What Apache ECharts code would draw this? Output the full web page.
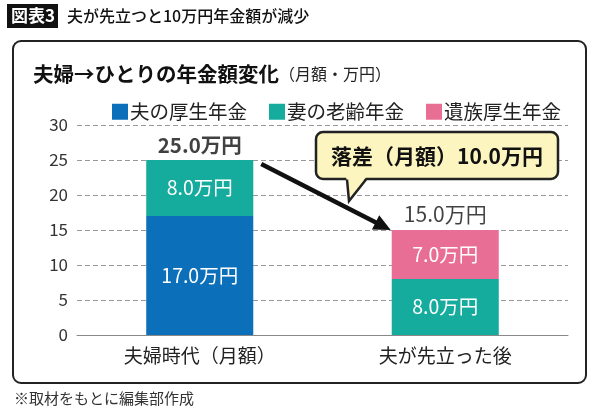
<!DOCTYPE html>
<html><head><meta charset="utf-8">
<script src="https://cdn.jsdelivr.net/npm/echarts@6/dist/echarts.min.js"></script>
<style>html,body{margin:0;padding:0;background:#fff}#c{width:600px;height:413px}</style>
</head><body><div id="c"></div>
<script>
const categories = ['夫婦時代（月額）', '夫が先立った後'];
const husbandPension = [17, '-'];
const wifePension = [8, 8];
const survivorPension = ['-', 7];
const totals = [25, 15];
const yTicks = { min: 0, max: 30, interval: 5 };
const seriesNames = ['夫の厚生年金', '妻の老齢年金', '遺族厚生年金'];
const colors = ['#0c6fba', '#15ac9e', '#e96e96'];
const FONT = '"Noto Sans CJK JP", "Noto Sans", sans-serif';

const chart = echarts.init(document.getElementById('c'), null, { renderer: 'canvas' });
const inLabel = {
  show: true, position: 'inside', color: '#fff', fontSize: 19.5, fontFamily: FONT,
  formatter: p => Number(p.value).toFixed(1) + '万円'
};
chart.setOption({
  animation: false,
  textStyle: { fontFamily: FONT },
  grid: { left: 77, right: 32, top: 125, bottom: 78 },
  legend: {
    data: seriesNames, left: 107, top: 97, icon: 'rect', itemWidth: 16, itemHeight: 16,
    itemGap: 22, textStyle: { fontSize: 19.5, color: '#222', fontFamily: FONT, padding: [0, 0, 0, -3] }
  },
  xAxis: {
    type: 'category', data: categories,
    axisLine: { lineStyle: { color: '#888', width: 1 } }, axisTick: { show: false },
    axisLabel: { fontSize: 19, color: '#222', margin: 11, fontFamily: FONT }
  },
  yAxis: {
    type: 'value', min: yTicks.min, max: yTicks.max, interval: yTicks.interval,
    axisLine: { show: false }, axisTick: { show: false },
    axisLabel: { fontSize: 17, color: '#333', margin: 9, fontFamily: FONT },
    splitLine: { lineStyle: { color: '#999', type: [5, 3], width: 1 } }
  },
  series: [
    { name: seriesNames[0], type: 'bar', stack: 't', data: husbandPension, barWidth: '43.6%',
      itemStyle: { color: colors[0] }, label: inLabel },
    { name: seriesNames[1], type: 'bar', stack: 't', data: wifePension,
      itemStyle: { color: colors[1] }, label: inLabel },
    { name: seriesNames[2], type: 'bar', stack: 't', data: survivorPension,
      itemStyle: { color: colors[2] }, label: inLabel },
    { name: 'total', type: 'scatter', symbolSize: 0, data: totals.map((v, i) => ({
        value: v,
        label: { fontWeight: i === 0 ? 'bold' : 'normal', fontSize: i === 0 ? 20.5 : 21 }
      })),
      label: { show: true, position: 'top', distance: 5, color: '#111', fontFamily: FONT,
        formatter: p => Number(p.value).toFixed(1) + '万円' }, z: 5 }
  ]
});

// annotation arrow from top-right of first bar to top-left of second bar
const halfW = 245.5 * 0.436 / 2;
const p1 = chart.convertToPixel({ gridIndex: 0 }, [0, totals[0]]);
const p2 = chart.convertToPixel({ gridIndex: 0 }, [1, totals[1]]);
const sx = p1[0] + halfW + 8, sy = p1[1] + 4;
const ex = p2[0] - halfW - 1, ey = p2[1];
const ang = Math.atan2(ey - sy, ex - sx);
const hl = 17, hw = 8;
const bx = ex - hl * Math.cos(ang), by = ey - hl * Math.sin(ang);
const nx = -Math.sin(ang), ny = Math.cos(ang);

chart.setOption({
  graphic: [
    { type: 'rect', shape: { x: 13, y: 41, width: 573, height: 342, r: 8 },
      style: { fill: 'none', stroke: '#222', lineWidth: 2 }, z: -10 },
    { type: 'rect', shape: { x: 7, y: 4, width: 51, height: 24 }, style: { fill: '#111' } },
    { type: 'text', x: 11, y: 16, style: { text: '図表3', fill: '#fff', font: 'bold 17px ' + FONT, textVerticalAlign: 'middle' } },
    { type: 'text', x: 67, y: 16, style: { text: '夫が先立つと10万円年金額が減少', fill: '#111', font: '500 16px ' + FONT, textVerticalAlign: 'middle' } },
    { type: 'text', x: 33, y: 74, style: {
        rich: { a: { font: 'bold 20.5px ' + FONT, fill: '#111' }, b: { font: '16px ' + FONT, fill: '#222' } },
        text: '{a|夫婦→ひとりの年金額変化}{b|（月額・万円）}', textVerticalAlign: 'middle' } },
    { type: 'text', x: 14, y: 398, style: { text: '※取材をもとに編集部作成', fill: '#333', font: '15px ' + FONT, textVerticalAlign: 'middle' } },
    // arrow
    { type: 'line', shape: { x1: sx, y1: sy, x2: bx + 2 * Math.cos(ang), y2: by + 2 * Math.sin(ang) },
      style: { stroke: '#111', lineWidth: 4.5 }, z: 20 },
    { type: 'polygon', shape: { points: [[ex, ey], [bx + nx * hw, by + ny * hw], [bx - nx * hw, by - ny * hw]] },
      style: { fill: '#111' }, z: 20 },
    // callout
    { type: 'rect', shape: { x: 316, y: 132, width: 242, height: 47, r: 7 },
      style: { fill: '#fcf5c0', stroke: '#222', lineWidth: 2.5 }, z: 21 },
    { type: 'polygon', shape: { points: [[346, 176], [349, 201], [367, 176]] },
      style: { fill: '#fcf5c0' }, z: 22 },
    { type: 'polyline', shape: { points: [[347, 179.5], [349, 201], [366, 179.5]] },
      style: { stroke: '#222', lineWidth: 2.5, fill: 'none' }, z: 22 },
    { type: 'text', x: 437, y: 156, style: { text: '落差（月額）10.0万円', fill: '#111', font: 'bold 21px ' + FONT,
        textAlign: 'center', textVerticalAlign: 'middle' }, z: 23 }
  ]
});
</script></body></html>
